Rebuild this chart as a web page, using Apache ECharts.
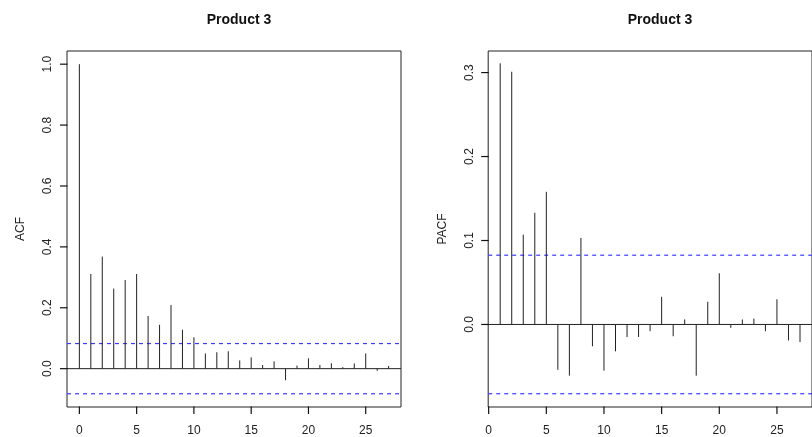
<!DOCTYPE html>
<html>
<head>
<meta charset="utf-8">
<script src="https://cdn.jsdelivr.net/npm/echarts@6/dist/echarts.min.js"></script>
<style>html,body{margin:0;padding:0;background:#fff;}#c{width:812px;height:437px;}</style>
</head>
<body>
<div id="c"></div>
<script>
var acfLags = [0,1,2,3,4,5,6,7,8,9,10,11,12,13,14,15,16,17,18,19,20,21,22,23,24,25,26,27];
var acfValues = [1.0,0.311,0.368,0.263,0.291,0.311,0.173,0.144,0.209,0.128,0.103,0.050,0.054,0.057,0.027,0.037,0.012,0.024,-0.038,0.010,0.034,0.012,0.018,0.005,0.017,0.050,-0.007,0.009];
var pacfLags = [1,2,3,4,5,6,7,8,9,10,11,12,13,14,15,16,17,18,19,20,21,22,23,24,25,26,27];
var pacfValues = [0.311,0.301,0.107,0.133,0.158,-0.054,-0.061,0.103,-0.026,-0.055,-0.032,-0.015,-0.015,-0.008,0.033,-0.014,0.006,-0.061,0.027,0.061,-0.004,0.006,0.007,-0.008,0.030,-0.019,-0.021];
var confLimit = 0.0825;
var xTicks = [0,5,10,15,20,25];
var acfYTicks = [0,0.2,0.4,0.6,0.8,1.0];
var pacfYTicks = [0,0.1,0.2,0.3];
var titles = ['Product 3','Product 3'];
var yNames = ['ACF','PACF'];

var chart = echarts.init(document.getElementById('c'), null, {renderer:'canvas'});
var font = 'Liberation Sans, Arial, sans-serif';
var ink = '#222';
var blue = '#3a3aff';

function pairs(xs, ys){ return xs.map(function(x,i){return [x, ys[i]];}); }

function xAxisCfg(idx, min, max){
  return {
    type:'value', gridIndex: idx, min:min, max:max,
    axisLine:{show:false, onZero:false}, splitLine:{show:false},
    axisTick:{show:false},
    axisLabel:{show:true, customValues:xTicks, margin:18, color:ink, fontFamily:font, fontSize:12}
  };
}
function yAxisCfg(idx, min, max, ticks, name){
  return {
    type:'value', gridIndex: idx, min:min, max:max,
    name:name, nameLocation:'middle', nameGap:40,
    nameTextStyle:{color:ink, fontFamily:font, fontSize:12},
    axisLine:{show:false, onZero:false}, splitLine:{show:false},
    axisTick:{show:false},
    axisLabel:{show:true, customValues:ticks, rotate:90, margin:13, color:ink, fontFamily:font, fontSize:12,
      formatter:function(v){return Number(v).toFixed(1);}}
  };
}
function spikeSeries(idx, data){
  return {
    type:'custom', xAxisIndex:idx, yAxisIndex:idx, data:data, silent:true,
    renderItem:function(params, api){
      var p0 = api.coord([api.value(0), 0]);
      var p1 = api.coord([api.value(0), api.value(1)]);
      return {type:'line', shape:{x1:p0[0], y1:p0[1], x2:p1[0], y2:p1[1]}, style:{stroke:ink, lineWidth:1}};
    }
  };
}
// horizontal reference lines: [value, kind] where kind 0 = zero line, 1 = confidence bound
function hlineSeries(idx){
  return {
    type:'custom', xAxisIndex:idx, yAxisIndex:idx, silent:true,
    data:[[0,0],[confLimit,1],[-confLimit,1]],
    encode:{y:0},
    renderItem:function(params, api){
      var cs = params.coordSys;
      var y = api.coord([0, api.value(0)])[1];
      var conf = api.value(1) === 1;
      return {type:'line', shape:{x1:cs.x, y1:y, x2:cs.x+cs.width, y2:y},
        style:{stroke: conf ? blue : ink, lineWidth: conf ? 1.2 : 1, lineDash: conf ? [4,4] : null}};
    }
  };
}
// outward tick marks on the bottom and left sides, positioned through the axis scales
function tickSeries(idx, xt, yt){
  var d = xt.map(function(v){return [v, 0];}).concat(yt.map(function(v){return [v, 1];}));
  return {
    type:'custom', xAxisIndex:idx, yAxisIndex:idx, silent:true, clip:false,
    data:d, encode:{x:0},
    renderItem:function(params, api){
      var cs = params.coordSys;
      var v = api.value(0);
      if (api.value(1) === 0) {
        var x = api.coord([v, 0])[0];
        return {type:'line', shape:{x1:x, y1:cs.y+cs.height-0.5, x2:x, y2:cs.y+cs.height+7}, style:{stroke:'#111', lineWidth:1.2}};
      }
      var y = api.coord([0, v])[1];
      return {type:'line', shape:{x1:cs.x-7, y1:y, x2:cs.x+0.5, y2:y}, style:{stroke:'#111', lineWidth:1.2}};
    }
  };
}

chart.setOption({
  animation:false,
  title:[
    {text:titles[0], left:234, top:8, textAlign:'center', textStyle:{fontFamily:font, fontSize:14, fontWeight:'bold', color:'#111'}},
    {text:titles[1], left:655, top:8, textAlign:'center', textStyle:{fontFamily:font, fontSize:14, fontWeight:'bold', color:'#111'}}
  ],
  grid:[
    {left:67, top:51, width:334, height:359, show:true, borderColor:ink, borderWidth:1, backgroundColor:'transparent'},
    {left:488.2, top:51, width:333.6, height:359, show:true, borderColor:ink, borderWidth:1, backgroundColor:'transparent'}
  ],
  xAxis:[ xAxisCfg(0, -1.08, 28.08), xAxisCfg(1, -0.04, 28.04) ],
  yAxis:[ yAxisCfg(0, -0.1259, 1.0433, acfYTicks, yNames[0]), yAxisCfg(1, -0.0983, 0.3257, pacfYTicks, yNames[1]) ],
  series:[
    hlineSeries(0), hlineSeries(1),
    spikeSeries(0, pairs(acfLags, acfValues)), spikeSeries(1, pairs(pacfLags, pacfValues)),
    tickSeries(0, xTicks, acfYTicks), tickSeries(1, xTicks, pacfYTicks)
  ]
});
</script>
</body>
</html>
